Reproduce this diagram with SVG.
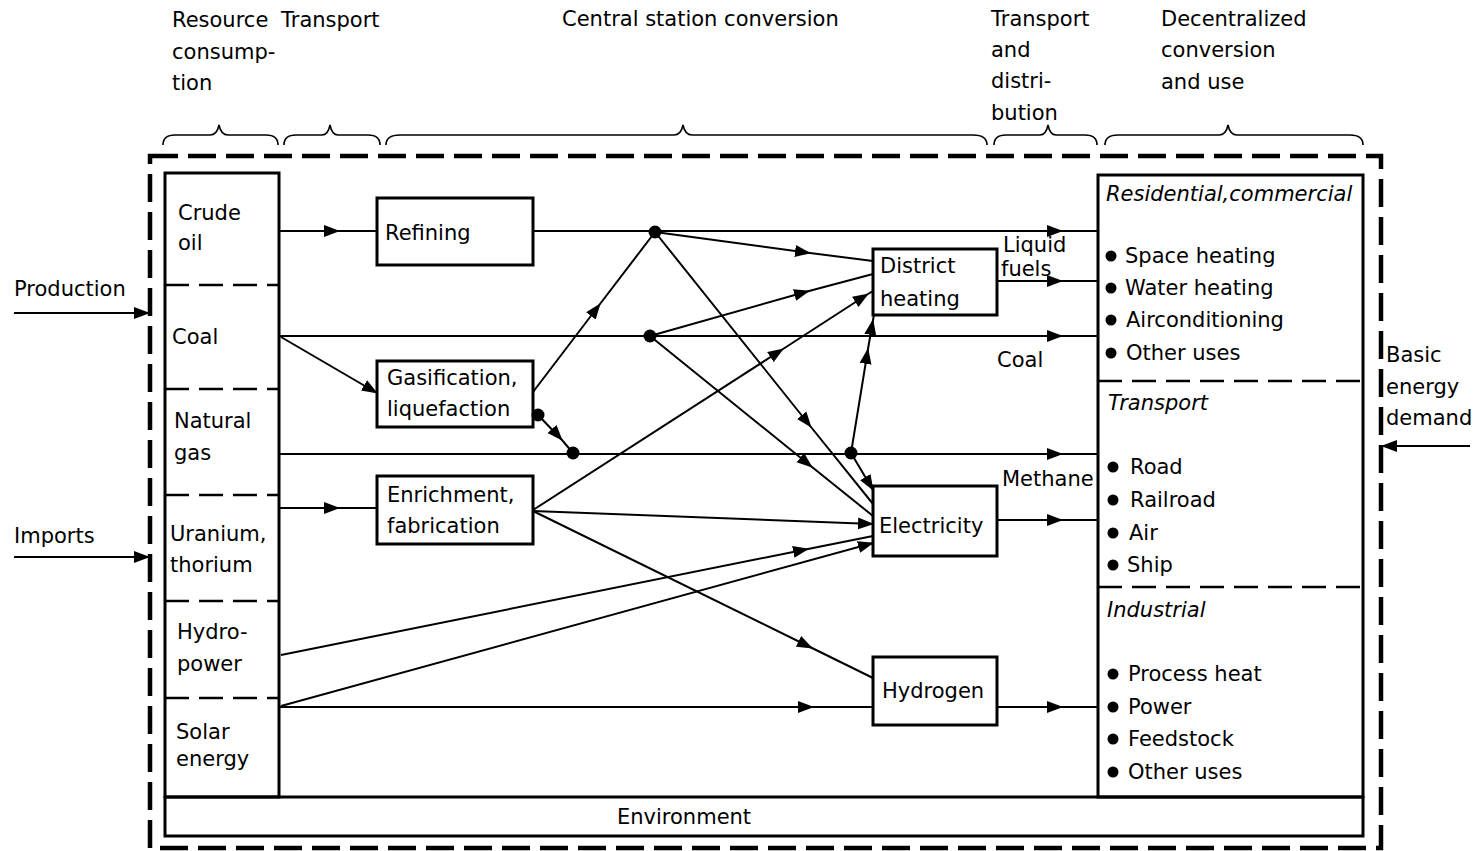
<svg xmlns="http://www.w3.org/2000/svg" width="1476" height="851" viewBox="0 0 1476 851">
<style>
.t{font-family:"DejaVu Sans","Liberation Sans",sans-serif;font-size:21px;fill:#000}
.i{font-style:italic}
.ln{fill:none;stroke:#000;stroke-width:2}
.arr{marker-mid:url(#ah)}
.end{marker-end:url(#ah)}
.box{fill:#fff;stroke:#000;stroke-width:3}
.frame{fill:none;stroke:#000;stroke-width:3}
.sep{fill:none;stroke:#000;stroke-width:2.5;stroke-dasharray:24 10}
.brace{fill:none;stroke:#000;stroke-width:1.6}
.dot{fill:#000}
</style>
<defs>
<marker id="ah" viewBox="0 0 16 13" refX="15" refY="6.5" markerWidth="16" markerHeight="13" markerUnits="userSpaceOnUse" orient="auto">
<path d="M0,0.5 L16,6.5 L0,12.5 z" fill="#000"/>
</marker>
</defs>
<rect width="1476" height="851" fill="#fff"/>

<g id="headers">
<text class="t" x="172" y="27">Resource</text>
<text class="t" x="172" y="59">consump-</text>
<text class="t" x="172" y="90">tion</text>
<text class="t" x="281" y="27">Transport</text>
<text class="t" x="562" y="26">Central station conversion</text>
<text class="t" x="991" y="26">Transport</text>
<text class="t" x="991" y="57">and</text>
<text class="t" x="991" y="88">distri-</text>
<text class="t" x="991" y="120">bution</text>
<text class="t" x="1161" y="26">Decentralized</text>
<text class="t" x="1161" y="57">conversion</text>
<text class="t" x="1161" y="89">and use</text>
</g>

<g id="braces">
<path class="brace" d="M163,145 Q163,135 175,135 L210,135 Q217,135 219,125 Q221,135 228,135 L266,135 Q278,135 278,145"/>
<path class="brace" d="M284,145 Q284,135 296,135 L322,135 Q328,135 330,125 Q332,135 338,135 L368,135 Q380,135 380,145"/>
<path class="brace" d="M386,145 Q386,135 400,135 L674,135 Q681,135 683,125 Q685,135 692,135 L973,135 Q987,135 987,145"/>
<path class="brace" d="M994,145 Q994,135 1006,135 L1040,135 Q1046,135 1048,125 Q1050,135 1056,135 L1085,135 Q1097,135 1097,145"/>
<path class="brace" d="M1105,145 Q1105,135 1118,135 L1219,135 Q1226,135 1228,125 Q1230,135 1237,135 L1350,135 Q1363,135 1363,145"/>
</g>

<g id="system-boundary">
<rect x="150" y="156" width="1231" height="692" fill="none" stroke="#000" stroke-width="4.5" stroke-dasharray="28 10"/>
</g>

<g id="external-inputs">
<text class="t" x="14" y="296">Production</text>
<path class="ln end" d="M14,313 L149,313" stroke-width="2.5"/>
<text class="t" x="14" y="543">Imports</text>
<path class="ln end" d="M14,557 L149,557" stroke-width="2.5"/>
<text class="t" x="1386" y="362">Basic</text>
<text class="t" x="1386" y="394">energy</text>
<text class="t" x="1386" y="425">demand</text>
<path class="ln end" d="M1470,446 L1382,446" stroke-width="2.5"/>
</g>

<g id="resources">
<rect class="frame" x="165" y="173" width="114" height="624"/>
<path class="sep" d="M165,285 H279 M165,389 H279 M165,495 H279 M165,601 H279 M165,698 H279"/>
<text class="t" x="178" y="220">Crude</text>
<text class="t" x="178" y="250">oil</text>
<text class="t" x="172" y="344">Coal</text>
<text class="t" x="174" y="428">Natural</text>
<text class="t" x="174" y="460">gas</text>
<text class="t" x="170" y="541">Uranium,</text>
<text class="t" x="170" y="572">thorium</text>
<text class="t" x="177" y="639">Hydro-</text>
<text class="t" x="177" y="671">power</text>
<text class="t" x="176" y="739">Solar</text>
<text class="t" x="176" y="766">energy</text>
</g>

<g id="environment">
<rect class="frame" x="165" y="797" width="1198" height="39"/>
<text class="t" x="617" y="824">Environment</text>
</g>

<g id="connectors">
<path class="ln arr" d="M279,231 L339,231 L377,231"/>
<path class="ln arr" d="M533,231 L1062,231 L1098,231"/>
<path class="ln arr" d="M279,336 L1062,336 L1098,336"/>
<path class="ln end" d="M281,337 L377,393"/>
<path class="ln arr" d="M279,454 L1062,454 L1098,454"/>
<path class="ln arr" d="M279,508 L339,508 L377,508"/>
<path class="ln arr" d="M279,707 L813,707 L873,707"/>
<path class="ln arr" d="M997,281 L1062,281 L1098,281"/>
<path class="ln arr" d="M997,520 L1062,520 L1098,520"/>
<path class="ln arr" d="M997,707 L1062,707 L1098,707"/>
<path class="ln arr" d="M533,392 L600,304 L655,232"/>
<path class="ln arr" d="M538,415 L562,440 L573,453"/>
<path class="ln arr" d="M655,232 L810,253 L873,261"/>
<path class="ln arr" d="M655,232 L811,427 L873,504"/>
<path class="ln arr" d="M650,336 L809,291 L873,274"/>
<path class="ln arr" d="M650,336 L812,467 L873,516"/>
<path class="ln arr" d="M533,510 L783,349 L868,294 L873,291"/>
<path class="ln end" d="M533,511 L873,524"/>
<path class="ln arr" d="M533,511 L812,648 L873,678"/>
<path class="ln arr" d="M281,655 L808,549 L873,536"/>
<path class="ln end" d="M281,706 L873,543"/>
<path class="ln end" d="M851,453 L873,490"/>
<path class="ln arr" d="M851,453 L868,349 L873,320 L874,315"/>
<circle class="dot" cx="655" cy="232" r="6.5"/>
<circle class="dot" cx="650" cy="336" r="6.5"/>
<circle class="dot" cx="573" cy="453" r="6.5"/>
<circle class="dot" cx="851" cy="453" r="6.5"/>
<text class="t" x="1003" y="252">Liquid</text>
<text class="t" x="1001" y="276">fuels</text>
<text class="t" x="997" y="367">Coal</text>
<text class="t" x="1002" y="486">Methane</text>
</g>

<g id="refining">
<rect class="box" x="377" y="198" width="156" height="67"/>
<text class="t" x="385" y="240">Refining</text>
</g>
<g id="gasification">
<rect class="box" x="377" y="361" width="156" height="66"/>
<text class="t" x="387" y="385">Gasification,</text>
<text class="t" x="387" y="416">liquefaction</text>
<circle class="dot" cx="538" cy="415" r="6.5"/>
</g>
<g id="enrichment">
<rect class="box" x="377" y="476" width="156" height="68"/>
<text class="t" x="387" y="502">Enrichment,</text>
<text class="t" x="387" y="533">fabrication</text>
</g>
<g id="district-heating">
<rect class="box" x="873" y="249" width="124" height="66"/>
<text class="t" x="880" y="273">District</text>
<text class="t" x="880" y="306">heating</text>
</g>
<g id="electricity">
<rect class="box" x="873" y="486" width="124" height="70"/>
<text class="t" x="879" y="533">Electricity</text>
</g>
<g id="hydrogen">
<rect class="box" x="873" y="657" width="124" height="68"/>
<text class="t" x="882" y="698">Hydrogen</text>
</g>

<g id="end-use">
<rect class="frame" x="1098" y="175" width="265" height="622"/>
<path class="sep" d="M1098,381 H1363 M1098,587 H1363"/>
<text class="t i" x="1106" y="201">Residential,commercial</text>
<circle class="dot" cx="1111" cy="256" r="5.5"/>
<text class="t" x="1125" y="263">Space heating</text>
<circle class="dot" cx="1111" cy="288" r="5.5"/>
<text class="t" x="1125" y="295">Water heating</text>
<circle class="dot" cx="1111" cy="320" r="5.5"/>
<text class="t" x="1126" y="327">Airconditioning</text>
<circle class="dot" cx="1111" cy="353" r="5.5"/>
<text class="t" x="1126" y="360">Other uses</text>
<text class="t i" x="1108" y="410">Transport</text>
<circle class="dot" cx="1113" cy="467" r="5.5"/>
<text class="t" x="1130" y="474">Road</text>
<circle class="dot" cx="1113" cy="500" r="5.5"/>
<text class="t" x="1130" y="507">Railroad</text>
<circle class="dot" cx="1113" cy="533" r="5.5"/>
<text class="t" x="1129" y="540">Air</text>
<circle class="dot" cx="1113" cy="565" r="5.5"/>
<text class="t" x="1127" y="572">Ship</text>
<text class="t i" x="1107" y="617">Industrial</text>
<circle class="dot" cx="1113" cy="674" r="5.5"/>
<text class="t" x="1128" y="681">Process heat</text>
<circle class="dot" cx="1113" cy="707" r="5.5"/>
<text class="t" x="1128" y="714">Power</text>
<circle class="dot" cx="1113" cy="739" r="5.5"/>
<text class="t" x="1128" y="746">Feedstock</text>
<circle class="dot" cx="1113" cy="772" r="5.5"/>
<text class="t" x="1128" y="779">Other uses</text>
</g>
</svg>
